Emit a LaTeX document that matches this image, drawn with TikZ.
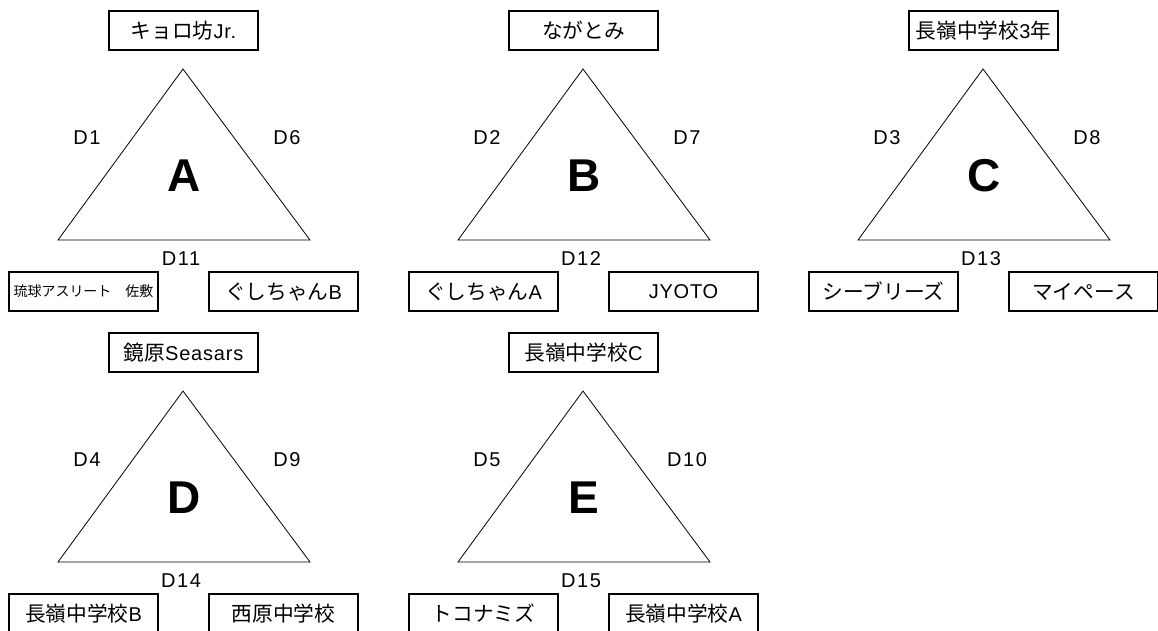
\documentclass[tikz,border=0pt]{standalone}
\usepackage{fontspec}
\setmainfont{Liberation Sans}
\newfontfamily\jp{Noto Sans CJK JP}[Scale=1.035]
\newfontfamily\boxlat{Liberation Sans}[LetterSpace=4]
\newfontfamily\lab{Liberation Sans}[LetterSpace=8]
\tikzset{
  tbox/.style={draw, line width=1.5pt, minimum width=149pt, minimum height=39pt, inner sep=0pt,
    font=\boxlat\fontsize{20}{22}\selectfont},
  bbox/.style={tbox},
  tri/.style={draw, line width=0.8pt, line join=miter},
  big/.style={inner sep=0pt, font=\fontsize{46}{50}\selectfont\bfseries},
  lbl/.style={inner sep=0pt, font=\lab\fontsize{20}{22}\selectfont},
}
\newcommand\grp[8]{%
  \begin{scope}[shift={(#2)}]
    \node[tbox] (#1-top) at (183.5,30.5) {#3};
    \coordinate (#1-apex) at (183,69);
    \coordinate (#1-bl) at (58,240);
    \coordinate (#1-br) at (310,240);
    \draw[tri] (#1-apex) -- (#1-bl) -- (#1-br) -- cycle;
    \node[big] (#1-name) at (184,176) {#1};
    \node[lbl] (#1-l) at (87,138) {#4};
    \node[lbl] (#1-r) at (287,138) {#5};
    \node[lbl] (#1-b) at (181,259) {#6};
    \node[bbox] (#1-blbox) at (83.5,291.5) {#7};
    \node[bbox] (#1-brbox) at (283.5,291.5) {#8};
  \end{scope}}
\begin{document}
\begin{tikzpicture}[x=1pt,y=-1pt]
\useasboundingbox (0,0) rectangle (1158,630);
\grp{A}{0,0}{{\jp キョロ坊}Jr.}{D1}{D6}{D11}{{\jp\fontsize{13.5}{15}\selectfont 琉球アスリート　佐敷}}{{\jp ぐしちゃん}B}
\grp{B}{400,0}{{\jp ながとみ}}{D2}{D7}{D12}{{\jp ぐしちゃん}A}{JYOTO}
\grp{C}{800,0}{{\jp 長嶺中学校}3{\jp 年}}{D3}{D8}{D13}{{\jp シーブリーズ}}{{\jp マイペース}}
\grp{D}{0,322}{{\jp 鏡原}Seasars}{D4}{D9}{D14}{{\jp 長嶺中学校}B}{{\jp 西原中学校}}
\grp{E}{400,322}{{\jp 長嶺中学校}C}{D5}{D10}{D15}{{\jp トコナミズ}}{{\jp 長嶺中学校}A}
\end{tikzpicture}
\end{document}
